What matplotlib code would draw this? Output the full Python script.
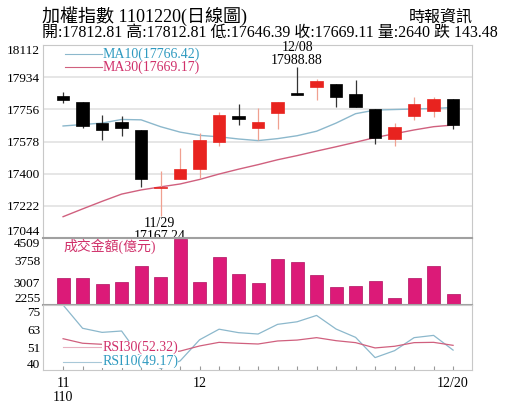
import numpy as np
import matplotlib
matplotlib.use('Agg')
import matplotlib.pyplot as plt

plt.rcParams['font.family'] = ['Liberation Serif', 'Noto Sans CJK TC', 'DejaVu Sans']

# 11/22 .. 12/20 trading days
dates = ['11/22', '11/23', '11/24', '11/25', '11/26', '11/29', '11/30',
         '12/01', '12/02', '12/03', '12/06', '12/07', '12/08', '12/09', '12/10',
         '12/13', '12/14', '12/15', '12/16', '12/17', '12/20']
opens = [17830, 17798, 17679, 17686, 17642, 17319, 17369, 17427, 17577, 17721, 17651,
         17737, 17845, 17881, 17895, 17841, 17756, 17592, 17719, 17745, 17812.81]
closes = [17805, 17665, 17642, 17654, 17369, 17328, 17426, 17586, 17725, 17701, 17688,
          17797, 17835, 17914, 17826, 17767, 17599, 17657, 17786, 17812, 17669.11]
highs = [17854, 17798, 17725, 17721, 17642, 17415, 17540, 17627, 17743, 17784, 17765,
         17797, 17988.88, 17924, 17895, 17918, 17756, 17682, 17823, 17826, 17812.81]
lows = [17793, 17651, 17586, 17608, 17328, 17167.24, 17369, 17375, 17553, 17669, 17586,
        17646, 17835, 17808, 17767, 17767, 17564, 17553, 17697, 17715, 17646.39]
ma10 = [17664, 17672, 17680, 17700, 17698, 17660, 17630, 17612, 17604, 17592, 17583,
        17594, 17610, 17635, 17680, 17732, 17752, 17755, 17758, 17761, 17766.42]
ma30 = [17162, 17205, 17247, 17287, 17310, 17327, 17343, 17368, 17398, 17425, 17450,
        17477, 17500, 17525, 17549, 17574, 17600, 17621, 17642, 17660, 17669.17]
volume = [3173, 3153, 2951, 3039, 3567, 3197, 4490, 3018, 3880, 3308, 3005,
          3792, 3702, 3254, 2871, 2882, 3073, 2501, 3153, 3567, 2640]
rsi10 = [79, 63.6, 60.9, 61.8, 44, 37, 42, 56, 63, 60.7, 59.8,
         66.2, 67.9, 72.1, 63.1, 57.6, 44.2, 48.8, 57.4, 58.9, 49.17]
rsi30 = [56.7, 53.7, 53.0, 53.2, 50, 47, 48.5, 51.9, 54.3, 53.7, 53.2,
         55.2, 55.8, 57.4, 55.4, 54.1, 50.6, 51.7, 54.1, 54.3, 52.32]

price_ticks = [17044, 17222, 17400, 17578, 17756, 17934, 18112]
vol_ticks = [2255, 3007, 3758, 4509]
rsi_ticks = [40, 51, 63, 75]

red = '#e8231f'
wick_red = '#f0a090'
blue_line = '#8cb8cc'
blue_text = '#2f9ac0'
pink_line = '#d0607e'
pink_text = '#d0306a'
vol_color = '#dc1a78'
grid_c = '#e2e2e2'
sep_c = '#a0a0a0'

x = np.arange(len(dates))

fig = plt.figure(figsize=(5.15, 4.13), dpi=100)
ax1 = fig.add_axes([0.0835, 0.4237, 0.833, 0.4673])
ax2 = fig.add_axes([0.0835, 0.2615, 0.833, 0.1622])
ax3 = fig.add_axes([0.0835, 0.1041, 0.833, 0.1574])

for ax in (ax1, ax2, ax3):
    ax.set_xlim(-1.03, 20.97)
    for s in ax.spines.values():
        s.set_color('#c8c8c8')
        s.set_linewidth(0.8)
    ax.tick_params(axis='y', length=0, labelsize=9.5, pad=2)
    ax.tick_params(axis='x', length=0)
    ax.set_xticks([])

# candles
w = 0.65
for i in x:
    o, c, h, l = opens[i], closes[i], highs[i], lows[i]
    up = c >= o
    col = red if up else 'black'
    wc = wick_red if up else '#333333'
    ax1.vlines(i, l, h, color=wc, lw=0.9, zorder=2)
    bot = min(o, c)
    hgt = max(abs(c - o), 4)
    ax1.bar(i, hgt, bottom=bot, width=w, color=col, edgecolor=col, lw=0.5, zorder=3)

ax1.plot(x, ma10, color=blue_line, lw=1.0, zorder=1)
ax1.plot(x, ma30, color=pink_line, lw=1.0, zorder=1)
ax1.set_ylim(17044, 18112)
ax1.set_yticks(price_ticks)
ax1.yaxis.grid(True, color=grid_c, lw=1.2)
ax1.set_axisbelow(True)

ax1.plot([0.1, 2.0], [18060, 18060], color=blue_line, lw=0.8)
ax1.text(2.0, 18060, 'MA10(17766.42)', color=blue_text, fontsize=10, va='center', ha='left')
ax1.plot([0.1, 2.0], [17990, 17990], color=pink_line, lw=0.8)
ax1.text(2.0, 17990, 'MA30(17669.17)', color=pink_text, fontsize=10, va='center', ha='left')

ax1.text(12, 17992, '12/08\n17988.88', fontsize=10, ha='center', va='bottom', linespacing=0.95)
ax1.text(4.95, 17160, '11/29\n17167.24', fontsize=10, ha='center', va='top', linespacing=0.95)

# volume
ax2.bar(x, volume, width=0.66, color=vol_color, edgecolor='#b01060', lw=0.5)
ax2.set_ylim(2255, 4509)
ax2.set_yticks(vol_ticks)
ax2.text(0.0, 4240, '成交金額(億元)', color=pink_text, fontsize=10, va='center', ha='left')
ax2.spines['top'].set_color(sep_c)
ax2.spines['top'].set_linewidth(1.5)
ax2.spines['bottom'].set_color(sep_c)
ax2.spines['bottom'].set_linewidth(1.5)

# RSI
ax3.plot(x, rsi10, color=blue_line, lw=0.9)
ax3.plot(x, rsi30, color=pink_line, lw=0.9)
ax3.set_ylim(36, 79)
ax3.set_yticks(rsi_ticks)
ax3.plot([0.0, 2.0], [51, 51], color='#e8b0c0', lw=0.8)
ax3.text(2.0, 51, 'RSI30(52.32)', color=pink_text, fontsize=10, va='center', ha='left',
         bbox=dict(facecolor='white', edgecolor='none', pad=0))
ax3.plot([0.0, 2.0], [41.5, 41.5], color='#a8c8d8', lw=0.8)
ax3.text(2.0, 41.5, 'RSI10(49.17)', color=blue_text, fontsize=10, va='center', ha='left',
         bbox=dict(facecolor='white', edgecolor='none', pad=0))
ax3.set_xticks(x)
ax3.set_xticklabels([])
ax3.tick_params(axis='x', length=3, direction='in', color='#999999')
ax3.text(0, -0.1, '11\n110', transform=ax3.get_xaxis_transform(), fontsize=10,
         ha='center', va='top', linespacing=1.1)
ax3.text(7, -0.1, '12', transform=ax3.get_xaxis_transform(), fontsize=10, ha='center', va='top')
ax3.text(20, -0.1, '12/20', transform=ax3.get_xaxis_transform(), fontsize=10, ha='center', va='top')

# keep end labels inside their own panel
labs = ax1.get_yticklabels()
labs[0].set_va('bottom')
labs[-1].set_va('top')
labs = ax2.get_yticklabels()
labs[0].set_va('bottom')
labs[-1].set_va('top')

fig.text(0.082, 0.962, '加權指數 1101220(日線圖)', fontsize=13, ha='left', va='center')
fig.text(0.917, 0.958, '時報資訊', fontsize=11.5, ha='right', va='center')
fig.text(0.082, 0.921, '開:17812.81 高:17812.81 低:17646.39 收:17669.11 量:2640 跌 143.48',
         fontsize=11.5, ha='left', va='center')

fig.savefig('out.png', dpi=100)
